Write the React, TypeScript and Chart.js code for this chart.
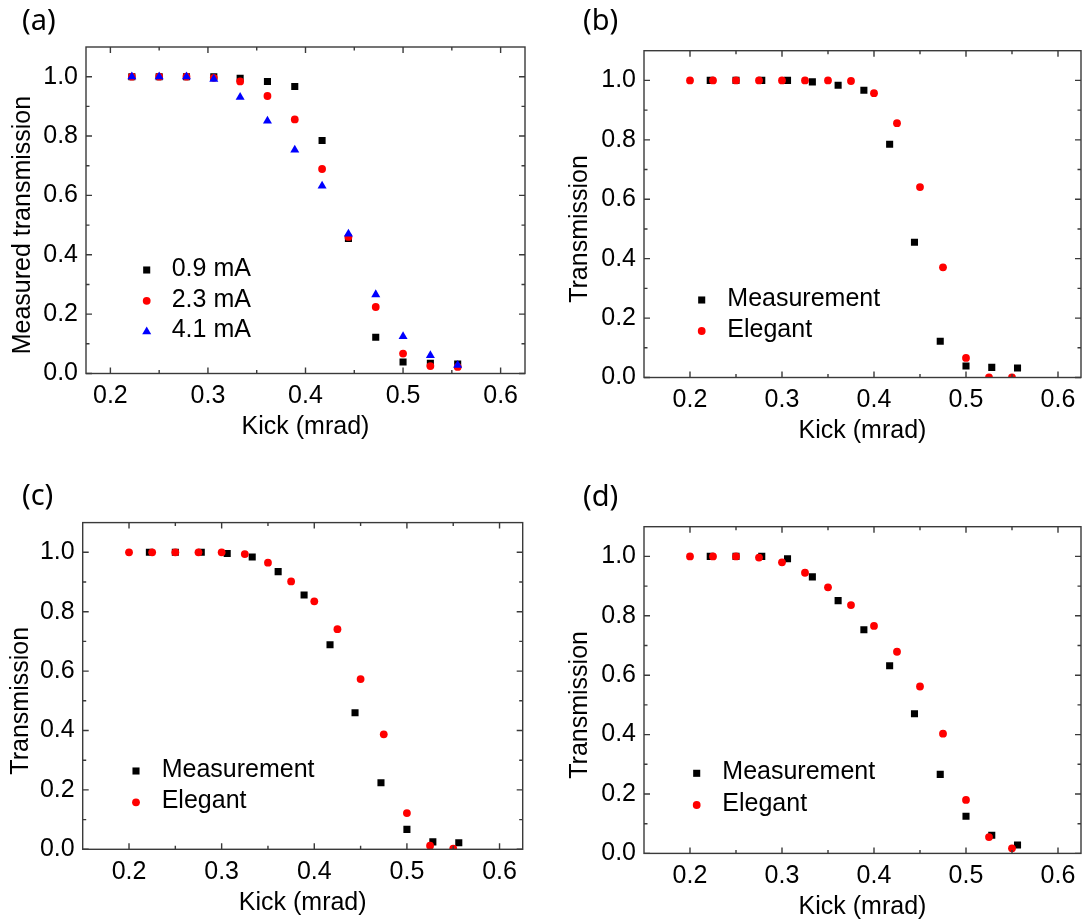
import React, { useEffect, useRef } from 'react';
import { Chart, registerables } from 'chart.js';
import { drawPoint } from 'chart.js/helpers';

Chart.register(...registerables);

// ---------- data ----------
const kickMeasured = [0.222, 0.25, 0.278, 0.306, 0.333, 0.361, 0.389, 0.417, 0.444, 0.472, 0.5, 0.528, 0.556];
const kickElegant = [0.2, 0.225, 0.25, 0.275, 0.3, 0.325, 0.35, 0.375, 0.4, 0.425, 0.45, 0.475, 0.5, 0.525, 0.55];

const trans09mA = [1.0, 1.0, 1.0, 1.0, 0.995, 0.984, 0.967, 0.785, 0.455, 0.122, 0.039, 0.034, 0.032];
const trans23mA = [1.0, 1.0, 1.0, 0.996, 0.984, 0.935, 0.856, 0.689, 0.46, 0.224, 0.067, 0.025, 0.022];
const trans41mA = [1.0, 1.0, 1.0, 0.992, 0.931, 0.851, 0.753, 0.632, 0.47, 0.266, 0.125, 0.061, 0.028];

const elegantB = [1.0, 1.0, 1.0, 1.0, 1.0, 1.0, 1.0, 0.998, 0.957, 0.856, 0.641, 0.371, 0.066, 0.0, 0.0];
const elegantC = [1.0, 1.0, 1.0, 1.0, 1.0, 0.994, 0.965, 0.902, 0.835, 0.741, 0.573, 0.387, 0.122, 0.012, 0.002];
const elegantD = [1.0, 1.0, 1.0, 0.996, 0.98, 0.945, 0.896, 0.836, 0.766, 0.679, 0.562, 0.403, 0.18, 0.055, 0.017];

const xTickValues = [0.2, 0.3, 0.4, 0.5, 0.6];
const xMinorValues = [0.25, 0.35, 0.45, 0.55];
const yTickValues = [0.0, 0.2, 0.4, 0.6, 0.8, 1.0];
const yMinorValues = [0.1, 0.3, 0.5, 0.7, 0.9];

const panelLetters = ['(a)', '(b)', '(c)', '(d)'];
const xTitle = 'Kick (mrad)';
const yTitles = ['Measured transmission', 'Transmission', 'Transmission', 'Transmission'];

// ---------- styles ----------
const SANS = '"Liberation Sans", Arial, sans-serif';
const BLACK = { color: '#000000', style: 'rect', radius: 5 };
const RED = { color: '#ff0000', style: 'circle', radius: 3.9 };
const BLUE = { color: '#0000ff', style: 'triangle', radius: 5.2 };

type Series = { label: string; xs: number[]; ys: number[]; st: any; order: number };
type PanelCfg = {
  cx: number; cy: number; cw: number; ch: number;
  L: number; T: number; R: number; B: number;
  xMin: number; yTitleX: number;
  legend: { x: number; y: number; gap: number; textX: number };
  series: Series[];
  yTitle: string;
};

const panels: PanelCfg[] = [
  {
    cx: 0, cy: 0, cw: 540, ch: 462, L: 86, T: 47, R: 525, B: 373.5, xMin: 0.175, yTitleX: 23,
    legend: { x: 146.7, y: 270, gap: 30.8, textX: 171.7 },
    yTitle: yTitles[0],
    series: [
      { label: '0.9 mA', xs: kickMeasured, ys: trans09mA, st: BLACK, order: 2 },
      { label: '2.3 mA', xs: kickMeasured, ys: trans23mA, st: RED, order: 1 },
      { label: '4.1 mA', xs: kickMeasured, ys: trans41mA, st: BLUE, order: 0 },
    ],
  },
  {
    cx: 543, cy: 0, cw: 543, ch: 462, L: 644, T: 50.7, R: 1082, B: 377.5, xMin: 0.15, yTitleX: 580,
    legend: { x: 701.7, y: 300, gap: 31, textX: 727.3 },
    yTitle: yTitles[1],
    series: [
      { label: 'Measurement', xs: kickMeasured, ys: trans09mA, st: BLACK, order: 1 },
      { label: 'Elegant', xs: kickElegant, ys: elegantB, st: RED, order: 0 },
    ],
  },
  {
    cx: 0, cy: 462, cw: 540, ch: 462, L: 82.7, T: 522.6, R: 522.7, B: 849.3, xMin: 0.15, yTitleX: 21,
    legend: { x: 136, y: 771, gap: 31.3, textX: 161.7 },
    yTitle: yTitles[2],
    series: [
      { label: 'Measurement', xs: kickMeasured, ys: trans23mA, st: BLACK, order: 1 },
      { label: 'Elegant', xs: kickElegant, ys: elegantC, st: RED, order: 0 },
    ],
  },
  {
    cx: 543, cy: 462, cw: 543, ch: 462, L: 644, T: 526.7, R: 1081.7, B: 853.4, xMin: 0.15, yTitleX: 580,
    legend: { x: 696.7, y: 773.3, gap: 31.7, textX: 722.3 },
    yTitle: yTitles[3],
    series: [
      { label: 'Measurement', xs: kickMeasured, ys: trans41mA, st: BLACK, order: 1 },
      { label: 'Elegant', xs: kickElegant, ys: elegantD, st: RED, order: 0 },
    ],
  },
];

const labelPos = [
  { x: 22, y: 4 },
  { x: 583, y: 4 },
  { x: 22, y: 479 },
  { x: 583, y: 480 },
];

// ---------- plugins ----------
const framePlugin = {
  id: 'frame',
  afterDraw(chart: any, _args: any, opts: any) {
    const { ctx, chartArea } = chart;
    const { left, right, top, bottom } = chartArea;
    const xs = chart.scales.x;
    const ys = chart.scales.y;
    ctx.save();
    ctx.strokeStyle = '#3a3a3a';
    ctx.lineWidth = 1.4;
    ctx.beginPath();
    const majorLen = 6;
    const minorLen = 3.5;
    const vx = (vals: number[], len: number) => {
      vals.forEach((v) => {
        const p = xs.getPixelForValue(v);
        ctx.moveTo(p, bottom);
        ctx.lineTo(p, bottom - len);
        ctx.moveTo(p, top);
        ctx.lineTo(p, top + len);
      });
    };
    const vy = (vals: number[], len: number) => {
      vals.forEach((v) => {
        const p = ys.getPixelForValue(v);
        ctx.moveTo(left, p);
        ctx.lineTo(left + len, p);
        ctx.moveTo(right, p);
        ctx.lineTo(right - len, p);
      });
    };
    vx(xTickValues, majorLen);
    vx(xMinorValues.filter((v) => v > xs.min && v < xs.max), minorLen);
    vy(yTickValues, majorLen);
    vy(yMinorValues, minorLen);
    ctx.stroke();
    ctx.strokeRect(left, top, right - left, bottom - top);

    // y-axis title, centred on the 0 – 1.0 span of the axis
    const cy = (ys.getPixelForValue(yTickValues[0]) + ys.getPixelForValue(yTickValues[yTickValues.length - 1])) / 2;
    ctx.translate(opts.titleX, cy);
    ctx.rotate(-Math.PI / 2);
    ctx.fillStyle = '#000';
    ctx.font = `25px ${SANS}`;
    ctx.textAlign = 'center';
    ctx.textBaseline = 'middle';
    ctx.fillText(opts.title, 0, 0);
    ctx.restore();
  },
};

const legendPlugin = {
  id: 'innerLegend',
  afterDraw(chart: any, _args: any, opts: any) {
    const { ctx } = chart;
    chart.data.datasets.forEach((ds: any, i: number) => {
      const mx = opts.x;
      const my = opts.y + i * opts.gap;
      ctx.save();
      ctx.fillStyle = ds.backgroundColor;
      drawPoint(ctx, { pointStyle: ds.pointStyle, radius: ds.pointRadius, rotation: 0, borderWidth: 0 } as any, mx, my);
      ctx.fillStyle = '#000';
      ctx.font = `25px ${SANS}`;
      ctx.textAlign = 'left';
      ctx.textBaseline = 'middle';
      ctx.fillText(ds.label, opts.textX, my - 1);
      ctx.restore();
    });
  },
};

function Panel({ p }: { p: PanelCfg }) {
  const ref = useRef<HTMLCanvasElement>(null);
  useEffect(() => {
    const canvas = ref.current;
    if (!canvas) return;
    const xAxisH = p.cy + p.ch - p.B;
    const yAxisW = p.L - p.cx;
    const chart = new Chart(canvas, {
      type: 'scatter',
      data: {
        datasets: p.series.map((s) => ({
          label: s.label,
          data: s.xs.map((x, j) => ({ x, y: s.ys[j] })),
          pointStyle: s.st.style,
          pointRadius: s.st.radius,
          pointHoverRadius: s.st.radius,
          backgroundColor: s.st.color,
          borderColor: s.st.color,
          borderWidth: 0,
          order: s.order,
        })),
      },
      options: {
        responsive: false,
        animation: false,
        devicePixelRatio: 1,
        events: [],
        layout: { padding: { top: p.T - p.cy, right: p.cx + p.cw - p.R, left: 0, bottom: 0 } },
        plugins: {
          legend: { display: false },
          tooltip: { enabled: false },
          innerLegend: { x: p.legend.x - p.cx, y: p.legend.y - p.cy, gap: p.legend.gap, textX: p.legend.textX - p.cx },
          frame: { title: p.yTitle, titleX: p.yTitleX - p.cx },
        } as any,
        scales: {
          x: {
            type: 'linear',
            min: p.xMin,
            max: 0.625,
            afterBuildTicks: (s: any) => {
              s.ticks = xTickValues.map((v) => ({ value: v }));
            },
            afterFit: (s: any) => {
              s.height = xAxisH;
              s.paddingLeft = 0;
              s.paddingRight = 0;
              s.paddingTop = 0;
              s.paddingBottom = 0;
            },
            grid: { display: false, drawTicks: false },
            border: { display: false },
            ticks: {
              autoSkip: false,
              maxRotation: 0,
              minRotation: 0,
              padding: 8,
              color: '#000',
              font: { family: SANS, size: 25 },
              callback: (v: any) => Number(v).toFixed(1),
            },
            title: {
              display: true,
              text: xTitle,
              color: '#000',
              font: { family: SANS, size: 25 },
              padding: { top: 0, bottom: xAxisH - 54 - 15 },
            },
          },
          y: {
            type: 'linear',
            min: 0,
            max: 1.1,
            afterBuildTicks: (s: any) => {
              s.ticks = yTickValues.map((v) => ({ value: v }));
            },
            afterFit: (s: any) => {
              s.width = yAxisW;
              s.paddingLeft = 0;
              s.paddingRight = 0;
              s.paddingTop = 0;
              s.paddingBottom = 0;
            },
            grid: { display: false, drawTicks: false },
            border: { display: false },
            ticks: {
              padding: 8,
              color: '#000',
              font: { family: SANS, size: 25 },
              callback: (v: any) => Number(v).toFixed(1),
            },
            title: { display: false },
          },
        },
      } as any,
      plugins: [framePlugin, legendPlugin],
    });
    return () => chart.destroy();
  }, [p]);
  return (
    <canvas
      ref={ref}
      width={p.cw}
      height={p.ch}
      style={{ position: 'absolute', left: p.cx, top: p.cy, width: p.cw, height: p.ch }}
    />
  );
}

export default function App() {
  return (
    <div style={{ position: 'absolute', left: 0, top: 0, width: 1086, height: 924, background: '#ffffff', overflow: 'hidden' }}>
      {panels.map((p, i) => (
        <Panel key={i} p={p} />
      ))}
      {panelLetters.map((t, i) => (
        <div
          key={t}
          style={{
            position: 'absolute',
            left: labelPos[i].x,
            top: labelPos[i].y,
            fontFamily: '"Noto Sans", "Open Sans", sans-serif',
            fontSize: 29,
            lineHeight: 1,
            color: '#000',
          }}
        >
          {t}
        </div>
      ))}
    </div>
  );
}
